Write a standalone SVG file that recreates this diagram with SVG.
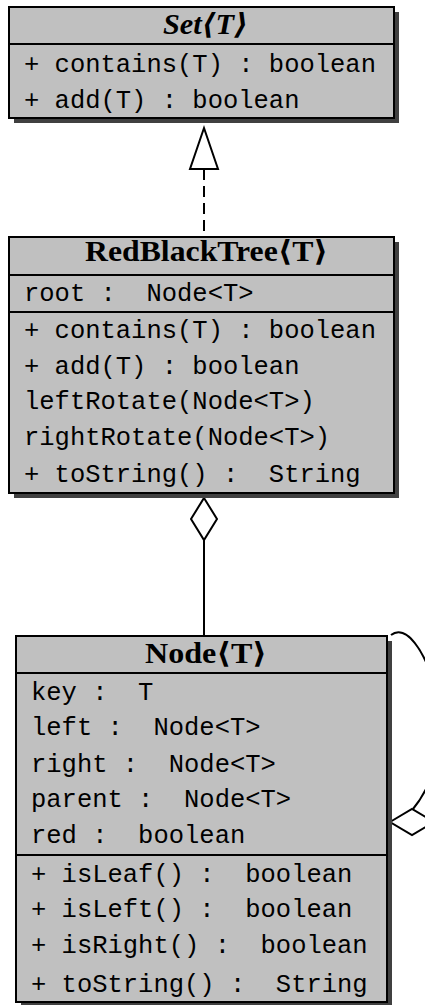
<svg xmlns="http://www.w3.org/2000/svg" width="425" height="1005" viewBox="0 0 425 1005">
<style>
.shadow{fill:#404040;stroke:none}
.box{fill:#c0c0c0;stroke:#000;stroke-width:2}
.div{stroke:#000;stroke-width:2}
.hdr{font-family:"Liberation Serif","DejaVu Serif",serif;font-weight:bold;font-size:29px;fill:#000;text-anchor:middle}
.mono{font-family:"Liberation Mono","DejaVu Sans Mono",monospace;font-size:25.5px;fill:#000;white-space:pre}
.conn{fill:none;stroke:#000;stroke-width:2}
.head{fill:#fff;stroke:#000;stroke-width:2;stroke-linejoin:miter}
</style>
<rect width="425" height="1005" fill="#fff"/>
<g id="connectors">
<line class="conn" x1="204" y1="169" x2="204" y2="237" stroke-dasharray="11 6"/>
<polygon class="head" points="204,128 218,169 190,169"/>
<line class="conn" x1="204" y1="540" x2="204" y2="636"/>
<polygon class="head" points="204,498 217,519 204,540 191,519"/>
<path class="conn" d="M 391 635 C 420 612, 470 740, 413 809"/>
<polygon class="head" points="390,822 412,809 434,822 412,835"/>
</g>
<g id="set">
<rect class="shadow" x="14" y="12" width="385" height="111"/>
<rect class="box" x="9" y="7" width="385" height="111"/>
<line class="div" x1="9" y1="44" x2="394" y2="44"/>
<text class="hdr" x="205.5" y="34" font-style="italic" textLength="85" lengthAdjust="spacingAndGlyphs">Set⟨T⟩</text>
<text class="mono" x="24" y="72">+ contains(T) : boolean</text>
<text class="mono" x="24" y="108">+ add(T) : boolean</text>
</g>
<g id="redblacktree">
<rect class="shadow" x="14" y="242" width="385" height="256"/>
<rect class="box" x="9" y="237" width="385" height="256"/>
<line class="div" x1="9" y1="275" x2="394" y2="275"/>
<line class="div" x1="9" y1="312" x2="394" y2="312"/>
<text class="hdr" x="206.5" y="261" textLength="243" lengthAdjust="spacingAndGlyphs">RedBlackTree⟨T⟩</text>
<text class="mono" x="24" y="301">root :  Node&lt;T&gt;</text>
<text class="mono" x="24" y="338">+ contains(T) : boolean</text>
<text class="mono" x="24" y="374">+ add(T) : boolean</text>
<text class="mono" x="24" y="409">leftRotate(Node&lt;T&gt;)</text>
<text class="mono" x="24" y="445">rightRotate(Node&lt;T&gt;)</text>
<text class="mono" x="24" y="482">+ toString() :  String</text>
</g>
<g id="node">
<rect class="shadow" x="21" y="641" width="371" height="366"/>
<rect class="box" x="16" y="636" width="371" height="366"/>
<line class="div" x1="16" y1="673" x2="387" y2="673"/>
<line class="div" x1="16" y1="855" x2="387" y2="855"/>
<text class="hdr" x="206" y="663" textLength="122" lengthAdjust="spacingAndGlyphs">Node⟨T⟩</text>
<text class="mono" x="31" y="700">key :  T</text>
<text class="mono" x="31" y="735">left :  Node&lt;T&gt;</text>
<text class="mono" x="31" y="772">right :  Node&lt;T&gt;</text>
<text class="mono" x="31" y="807">parent :  Node&lt;T&gt;</text>
<text class="mono" x="31" y="843">red :  boolean</text>
<text class="mono" x="31" y="882">+ isLeaf() :  boolean</text>
<text class="mono" x="31" y="917">+ isLeft() :  boolean</text>
<text class="mono" x="31" y="953">+ isRight() :  boolean</text>
<text class="mono" x="31" y="992">+ toString() :  String</text>
</g>
</svg>
